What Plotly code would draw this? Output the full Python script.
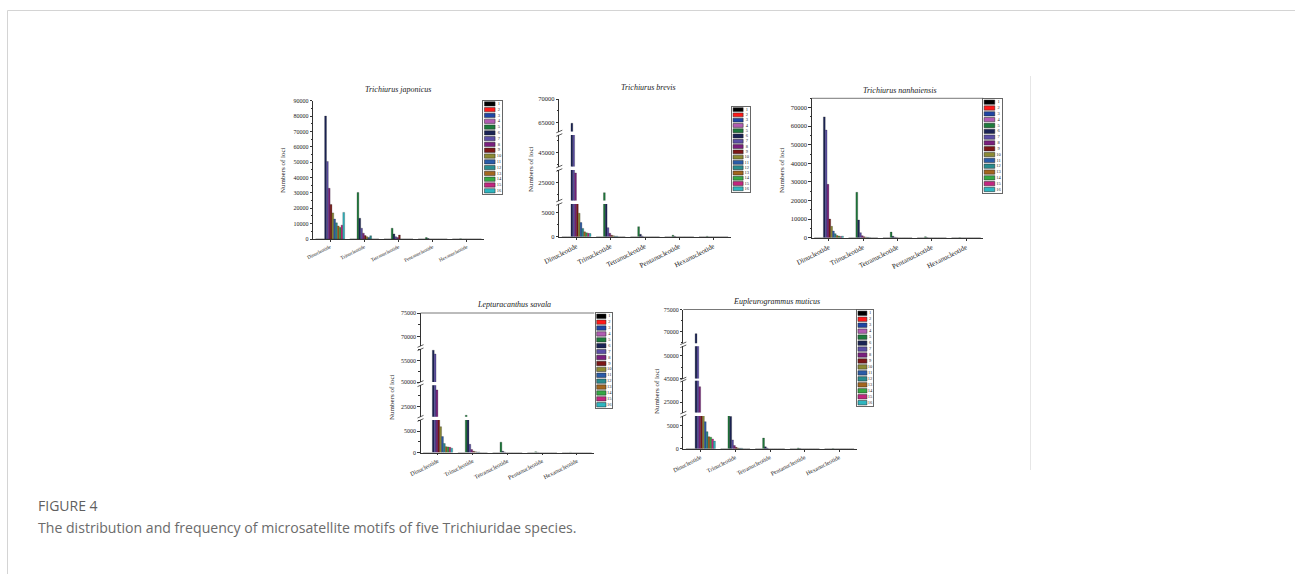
import plotly.graph_objects as go

# ---------------- data ----------------
categories = ["Dinucleotide", "Trinucleotide", "Tetranucleotide", "Pentanucleotide", "Hexanucleotide"]
series_names = [str(i) for i in range(1, 17)]
series_colors = ["#000000", "#ff1a1a", "#1f45a3", "#b25cb2", "#1e7b3c", "#1b2456",
                 "#5b4ea6", "#7a1f7e", "#7d1717", "#8c8a34", "#2b5ca8", "#2a8c8e",
                 "#a3661f", "#35a845", "#c2267f", "#2fb6c0"]

# rows: Di, Tri, Tetra, Penta, Hexa ; columns: series 1..16
japonicus = [
    [0, 0, 0, 0, 0, 80000, 50500, 33000, 22500, 17000, 13000, 10500, 8500, 7500, 9000, 17300],
    [0, 0, 0, 0, 30300, 13500, 7000, 3800, 2200, 1500, 1000, 2100, 0, 0, 0, 0],
    [0, 0, 0, 0, 7000, 3300, 1500, 1000, 2600, 0, 0, 0, 0, 0, 0, 0],
    [0, 0, 0, 0, 900, 300, 0, 0, 0, 0, 0, 0, 0, 0, 0, 0],
    [0, 0, 0, 0, 150, 0, 0, 0, 0, 0, 0, 0, 0, 0, 0, 0],
]
brevis = [
    [0, 0, 0, 0, 0, 64800, 55000, 27000, 9000, 4800, 2900, 1700, 1000, 800, 700, 650],
    [0, 0, 0, 0, 22950, 9000, 1850, 700, 300, 200, 100, 100, 0, 0, 0, 0],
    [0, 0, 0, 0, 2050, 500, 150, 0, 0, 0, 0, 0, 0, 0, 0, 0],
    [0, 0, 0, 0, 300, 80, 0, 0, 0, 0, 0, 0, 0, 0, 0, 0],
    [0, 0, 0, 0, 80, 0, 0, 0, 0, 0, 0, 0, 0, 0, 0, 0],
]
nanhaiensis = [
    [0, 0, 0, 0, 0, 65000, 57900, 28700, 10000, 6100, 3600, 2150, 1200, 900, 700, 800],
    [0, 0, 0, 0, 24400, 9500, 2700, 1100, 500, 300, 200, 150, 0, 0, 0, 0],
    [0, 0, 0, 0, 3000, 800, 300, 150, 0, 0, 0, 0, 0, 0, 0, 0],
    [0, 0, 0, 0, 500, 100, 0, 0, 0, 0, 0, 0, 0, 0, 0, 0],
    [0, 0, 0, 0, 100, 0, 0, 0, 0, 0, 0, 0, 0, 0, 0, 0],
]
savala = [
    [0, 0, 0, 0, 0, 57400, 56500, 28900, 9000, 6000, 3700, 2100, 1350, 1300, 1200, 1000],
    [0, 0, 0, 0, 23000, 14000, 1900, 700, 300, 200, 100, 100, 0, 0, 0, 0],
    [0, 0, 0, 0, 2400, 300, 100, 0, 0, 0, 0, 0, 0, 0, 0, 0],
    [0, 0, 0, 0, 150, 50, 0, 0, 0, 0, 0, 0, 0, 0, 0, 0],
    [0, 0, 0, 0, 50, 0, 0, 0, 0, 0, 0, 0, 0, 0, 0, 0],
]
muticus = [
    [0, 0, 0, 0, 0, 69500, 60000, 28400, 9000, 8000, 5870, 3700, 2600, 2500, 2100, 1650],
    [0, 0, 0, 0, 12000, 7000, 1900, 700, 300, 150, 100, 100, 0, 0, 0, 0],
    [0, 0, 0, 0, 2300, 400, 150, 0, 0, 0, 0, 0, 0, 0, 0, 0],
    [0, 0, 0, 0, 150, 50, 0, 0, 0, 0, 0, 0, 0, 0, 0, 0],
    [0, 0, 0, 0, 50, 0, 0, 0, 0, 0, 0, 0, 0, 0, 0, 0],
]

caption_head = "FIGURE 4"
caption_text = "The distribution and frequency of microsatellite motifs of five Trichiuridae species."

# ---------------- geometry (page pixels) ----------------
W, H = 1295, 574


def px(x):
    return x / W


def py(y):
    return 1 - y / H


SERIF = "Liberation Serif"

plots = [
    dict(data=japonicus, title="Trichiurus japonicus", x0=313, x1=484,
         segs=[dict(lo=0, hi=90000, yb=239, yt=100.7, ticks=list(range(0, 90001, 10000)), minor=5000)],
         title_xy=(397.5, 89.5), ytitle_xy=(283, 170), yfont=6, xfont=5,
         legend=(483.3, 502.3, 100.7, 194), topline=False),
    dict(data=brevis, title="Trichiurus brevis", x0=559.3, x1=730.7,
         segs=[dict(lo=0, hi=6700, yb=236.7, yt=204.0, ticks=[0, 5000], minor=2500),
               dict(lo=21350, hi=27600, yb=200.5, yt=170.0, ticks=[25000], minor=2500),
               dict(lo=42100, hi=48550, yb=166.5, yt=135.0, ticks=[45000], minor=2500),
               dict(lo=63030, hi=70000, yb=131.5, yt=99.0, ticks=[65000, 70000], minor=2500)],
         title_xy=(648, 87.5), ytitle_xy=(531, 169), yfont=6.5, xfont=7,
         legend=(732, 750, 106.7, 191.7), topline=False),
    dict(data=nanhaiensis, title="Trichiurus nanhaiensis", x0=811.7, x1=983.3,
         segs=[dict(lo=0, hi=75000, yb=237.7, yt=98.3, ticks=list(range(0, 70001, 10000)), minor=5000)],
         title_xy=(900, 90), ytitle_xy=(782, 170), yfont=6.5, xfont=7,
         legend=(983, 1002, 99, 192.7), topline=True),
    dict(data=savala, title="Lepturacanthus savala", x0=420.5, x1=594.3,
         segs=[dict(lo=0, hi=7560, yb=452.5, yt=420.0, ticks=[0, 5000], minor=2500),
               dict(lo=22670, hi=29980, yb=416.7, yt=385.3, ticks=[25000], minor=2500),
               dict(lo=50000, hi=57600, yb=382.0, yt=349.3, ticks=[50000, 55000], minor=2500),
               dict(lo=68040, hi=75000, yb=346.0, yt=313.0, ticks=[70000, 75000], minor=2500)],
         title_xy=(514, 304), ytitle_xy=(392, 397), yfont=6, xfont=6,
         legend=(595.7, 612.3, 313, 408), topline=True),
    dict(data=muticus, title="Eupleurogrammus muticus", x0=683.3, x1=856.7,
         segs=[dict(lo=0, hi=7100, yb=448.7, yt=416.0, ticks=[0, 5000], minor=2500),
               dict(lo=22760, hi=29700, yb=412.6, yt=380.7, ticks=[25000], minor=2500),
               dict(lo=45000, hi=52000, yb=378.5, yt=346.3, ticks=[45000, 50000], minor=2500),
               dict(lo=67300, hi=75000, yb=343.3, yt=309.5, ticks=[70000, 75000], minor=2500)],
         title_xy=(776.7, 301.5), ytitle_xy=(657, 391), yfont=6, xfont=6,
         legend=(857, 873, 310, 406), topline=True),
]

AX = "#333333"

fig = go.Figure()
layout = dict(width=W, height=H, autosize=False, template="none",
              margin=dict(l=0, r=0, t=0, b=0, pad=0, autoexpand=False),
              paper_bgcolor="white", plot_bgcolor="rgba(0,0,0,0)", showlegend=False,
              barmode="group", bargap=0.15, bargroupgap=0.0,
              font=dict(family=SERIF, color="#222"))
shapes = []
annotations = []


def key(prefix, n):
    return prefix if n == 1 else f"{prefix}{n}"


def ref(prefix, n):
    return prefix if n == 1 else f"{prefix}{n}"


yi = 0
for pi, p in enumerate(plots):
    xn = pi + 1
    first_y = yi + 1
    for k, s in enumerate(p["segs"]):
        yi += 1
        layout[key("yaxis", yi)] = dict(
            domain=[py(s["yb"]), py(s["yt"])], anchor=ref("x", xn), range=[s["lo"], s["hi"]],
            tickmode="array", tickvals=s["ticks"], ticktext=[str(t) for t in s["ticks"]],
            ticks="outside", ticklen=2.5, tickwidth=0.6, tickcolor=AX, automargin=False,
            minor=dict(dtick=s["minor"], tick0=0, ticks="outside", ticklen=1.3, tickwidth=0.5, tickcolor=AX),
            showline=True, linecolor=AX, linewidth=0.8, showgrid=False, zeroline=False,
            tickfont=dict(family=SERIF, size=p["yfont"], color="#222"), fixedrange=True)
        for si in range(len(series_names)):
            fig.add_trace(go.Bar(
                x=categories, y=[row[si] for row in p["data"]], name=series_names[si],
                marker=dict(color=series_colors[si], line=dict(color="#1a1a1a", width=0.25)),
                xaxis=ref("x", xn), yaxis=ref("y", yi), showlegend=False, hoverinfo="skip"))
        # break marks
        if k > 0:
            prev = p["segs"][k - 1]
            for yb in (prev["yt"], s["yb"]):
                shapes.append(dict(type="line", xref="paper", yref="paper",
                                   x0=px(p["x0"] - 3), x1=px(p["x0"] + 3),
                                   y0=py(yb + 1.3), y1=py(yb - 1.3),
                                   line=dict(color=AX, width=0.8)))
    layout[key("xaxis", xn)] = dict(
        domain=[px(p["x0"]), px(p["x1"])], anchor=ref("y", first_y), type="category",
        range=[-0.5, 4.5], showline=True, linecolor=AX, linewidth=0.8, automargin=False,
        ticks="outside", ticklen=2, tickwidth=0.6, tickcolor=AX, tickangle=-27,
        tickfont=dict(family=SERIF, size=p["xfont"], color="#222"), showgrid=False, fixedrange=True)
    if p["topline"]:
        top = p["segs"][-1]["yt"]
        shapes.append(dict(type="line", xref="paper", yref="paper",
                           x0=px(p["x0"]), x1=px(p["x1"]), y0=py(top), y1=py(top),
                           line=dict(color="#555", width=0.8)))
    annotations.append(dict(text=f"<i>{p['title']}</i>", xref="paper", yref="paper",
                            x=px(p["title_xy"][0]), y=py(p["title_xy"][1]), showarrow=False,
                            xanchor="center", yanchor="middle",
                            font=dict(family=SERIF, size=8, color="#222")))
    annotations.append(dict(text="Numbers of loci", xref="paper", yref="paper",
                            x=px(p["ytitle_xy"][0]), y=py(p["ytitle_xy"][1]), showarrow=False,
                            textangle=-90, xanchor="center", yanchor="middle",
                            font=dict(family=SERIF, size=7, color="#222")))

# legends as small axes
NX = len(plots)
for li, p in enumerate(plots):
    xn = NX + 1 + li
    yi += 1
    lx0, lx1, ly0, ly1 = p["legend"]
    layout[key("xaxis", xn)] = dict(domain=[px(lx0), px(lx1)], anchor=ref("y", yi), range=[0, 1],
                                    showline=True, mirror=True, linecolor="#666", linewidth=0.8,
                                    showticklabels=False, ticks="", showgrid=False, zeroline=False,
                                    automargin=False, fixedrange=True)
    layout[key("yaxis", yi)] = dict(domain=[py(ly1), py(ly0)], anchor=ref("x", xn),
                                    range=[len(series_names) - 0.45, -0.55],
                                    showline=True, mirror=True, linecolor="#666", linewidth=0.8,
                                    showticklabels=False, ticks="", showgrid=False, zeroline=False,
                                    automargin=False, fixedrange=True)
    fig.add_trace(go.Bar(orientation="h", y=list(range(len(series_names))),
                         x=[0.56] * len(series_names), base=0.06, width=0.74,
                         marker=dict(color=series_colors, line=dict(color="#222", width=0.5)),
                         xaxis=ref("x", xn), yaxis=ref("y", yi), showlegend=False, hoverinfo="skip"))
    fig.add_trace(go.Scatter(mode="text", x=[0.82] * len(series_names), y=list(range(len(series_names))),
                             text=series_names, textfont=dict(family=SERIF, size=4.5, color="#222"),
                             xaxis=ref("x", xn), yaxis=ref("y", yi), showlegend=False, hoverinfo="skip"))

# page frame
FRAME = "#d4d4d4"
shapes.append(dict(type="line", xref="paper", yref="paper", x0=px(7.5), x1=1.2, y0=py(10.5), y1=py(10.5),
                   line=dict(color=FRAME, width=1)))
shapes.append(dict(type="line", xref="paper", yref="paper", x0=px(7.5), x1=px(7.5), y0=py(10.5), y1=-0.2,
                   line=dict(color=FRAME, width=1)))
shapes.append(dict(type="line", xref="paper", yref="paper", x0=px(1030.5), x1=px(1030.5), y0=py(76), y1=py(470),
                   line=dict(color="#e6e6e6", width=1)))

annotations.append(dict(text=caption_head, xref="paper", yref="paper", x=px(36), y=py(505),
                        xanchor="left", yanchor="middle", showarrow=False,
                        font=dict(family="Open Sans", size=14, color="#5f5f5f")))
annotations.append(dict(text=caption_text, xref="paper", yref="paper", x=px(36), y=py(527),
                        xanchor="left", yanchor="middle", showarrow=False,
                        font=dict(family="Open Sans", size=14.1, color="#6b6b6b")))

layout["shapes"] = shapes
layout["annotations"] = annotations
fig.update_layout(**layout)
fig.write_html("out.html", config={"displayModeBar": False},
               post_script="document.body.style.margin='0px';document.body.style.overflow='hidden';")
